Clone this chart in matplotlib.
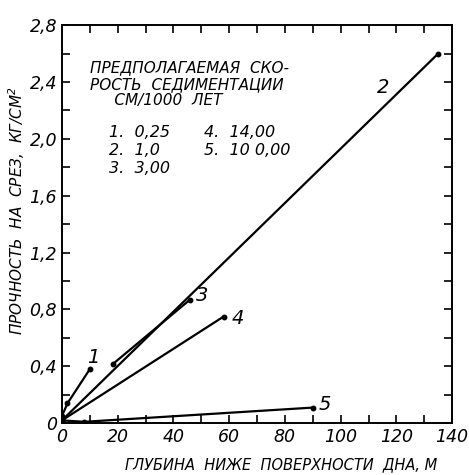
import matplotlib
matplotlib.use('Agg')
import matplotlib.pyplot as plt
from matplotlib.ticker import MultipleLocator, FuncFormatter

# curves: depth below sea floor (m) vs shear strength (kg/cm2)
depth_1 = [0, 2, 10]
strength_1 = [0.05, 0.14, 0.38]
depth_2 = [0, 135]
strength_2 = [0.02, 2.6]
depth_3 = [18.5, 46]
strength_3 = [0.42, 0.87]
depth_4 = [0, 58]
strength_4 = [0.02, 0.75]
depth_5 = [0, 8, 90]
strength_5 = [0.02, 0.01, 0.11]

curve_labels = ['1', '2', '3', '4', '5']
label_pos = [(9.0, 0.46), (113, 2.36), (48, 0.90), (61, 0.74), (92, 0.13)]

legend_title = 'ПРЕДПОЛАГАЕМАЯ  СКО-\nРОСТЬ  СЕДИМЕНТАЦИИ\n     СМ/1000  ЛЕТ'
rates_left = ['1.  0,25', '2.  1,0', '3.  3,00']
rates_right = ['4.  14,00', '5.  10 0,00']

plt.rcParams['font.family'] = 'DejaVu Sans'
plt.rcParams['font.style'] = 'italic'

fig = plt.figure(figsize=(4.69, 4.75), dpi=100)
ax = fig.add_axes([0.132, 0.109, 0.832, 0.838])

curves = [(depth_1, strength_1), (depth_2, strength_2), (depth_3, strength_3),
          (depth_4, strength_4), (depth_5, strength_5)]
for (xs, ys), lab, (lx, ly) in zip(curves, curve_labels, label_pos):
    ax.plot(xs, ys, color='black', lw=1.6, marker='o', ms=3.2)
    ax.text(lx, ly, lab, fontsize=14, ha='left', va='center')

ax.set_xlim(0, 140)
ax.set_ylim(0, 2.8)
ax.xaxis.set_major_locator(MultipleLocator(20))
ax.xaxis.set_minor_locator(MultipleLocator(10))
ax.yaxis.set_major_locator(MultipleLocator(0.4))
ax.yaxis.set_minor_locator(MultipleLocator(0.2))
ax.yaxis.set_major_formatter(FuncFormatter(
    lambda v, p: '0' if abs(v) < 1e-9 else ('%.1f' % v).replace('.', ',')))
ax.tick_params(which='both', direction='in', top=True, right=True,
               labelsize=12.5, width=1.2)
ax.tick_params(which='major', length=6)
ax.tick_params(which='minor', length=6)
for s in ax.spines.values():
    s.set_linewidth(1.4)

fig.text(0.60, 0.022, 'ГЛУБИНА  НИЖЕ  ПОВЕРХНОСТИ  ДНА, М', fontsize=10.5,
         ha='center', va='center')
ax.set_ylabel('ПРОЧНОСТЬ  НА  СРЕЗ,  КГ/СМ$^2$', fontsize=11, labelpad=0)
ax.yaxis.label.set_va('center')
ax.yaxis.set_label_coords(-0.115, 0.535)

ax.text(10, 2.55, legend_title, fontsize=11, va='top', linespacing=1.1)
ax.text(17, 2.10, '\n'.join(rates_left), fontsize=11.5, va='top', linespacing=1.25)
ax.text(51, 2.10, '\n'.join(rates_right), fontsize=11.5, va='top', linespacing=1.25)

plt.savefig('out.png', dpi=100)
